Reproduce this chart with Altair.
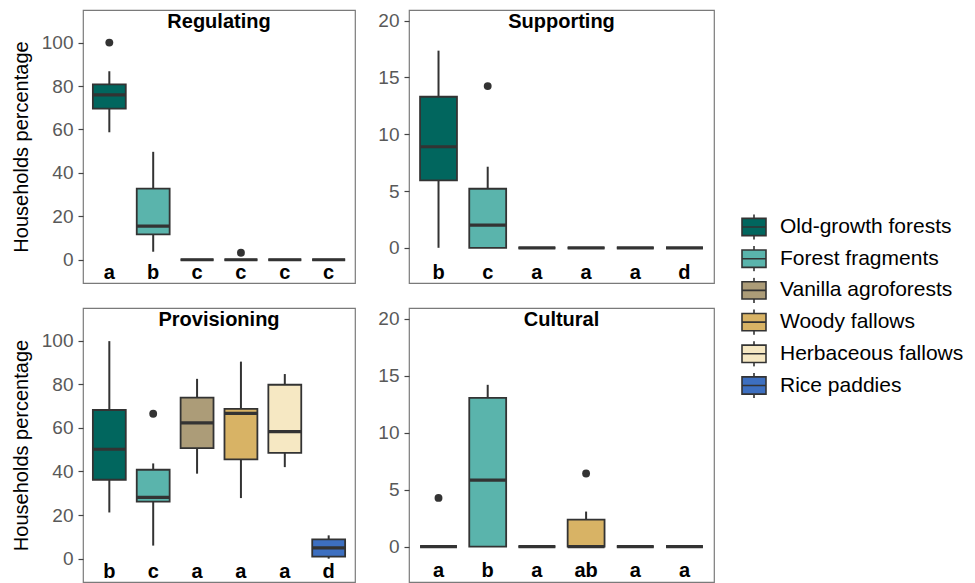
import altair as alt
import pandas as pd

cover = ["Old-growth forests", "Forest fragments", "Vanilla agroforests",
         "Woody fallows", "Herbaceous fallows", "Rice paddies"]
colors = ["#01665E", "#5AB4AC", "#AC9C78", "#D8B365", "#F6E8C3", "#3D6FC0"]

# Regulating
reg_lo = [58.7, 3.7, 0, 0, 0, 0]
reg_q1 = [69.6, 11.7, 0, 0, 0, 0]
reg_med = [75.9, 15.5, 0, 0, 0, 0]
reg_q3 = [80.8, 32.8, 0, 0, 0, 0]
reg_hi = [86.8, 49.7, 0, 0, 0, 0]
reg_letters = ["a", "b", "c", "c", "c", "c"]
reg_out_cat = ["Old-growth forests", "Woody fallows"]
reg_out_val = [100.0, 3.2]

# Supporting
sup_lo = [0, 0, 0, 0, 0, 0]
sup_q1 = [5.93, 0, 0, 0, 0, 0]
sup_med = [8.9, 2.0, 0, 0, 0, 0]
sup_q3 = [13.3, 5.2, 0, 0, 0, 0]
sup_hi = [17.36, 7.14, 0, 0, 0, 0]
sup_letters = ["b", "c", "a", "a", "a", "d"]
sup_out_cat = ["Forest fragments"]
sup_out_val = [14.24]

# Provisioning
pro_lo = [21.2, 6.0, 39.0, 27.8, 42.0, 0.0]
pro_q1 = [36.2, 26.2, 50.7, 45.6, 48.5, 0.9]
pro_med = [50.2, 28.1, 62.3, 66.7, 58.3, 5.0]
pro_q3 = [68.2, 40.8, 73.9, 68.7, 79.8, 8.9]
pro_hi = [99.8, 43.7, 82.5, 90.4, 84.7, 10.7]
pro_letters = ["b", "c", "a", "a", "a", "d"]
pro_out_cat = ["Forest fragments"]
pro_out_val = [66.5]

# Cultural
cul_lo = [0, 0, 0, 0, 0, 0]
cul_q1 = [0, 0, 0, 0, 0, 0]
cul_med = [0, 5.84, 0, 0, 0, 0]
cul_q3 = [0, 13.05, 0, 2.38, 0, 0]
cul_hi = [0, 14.2, 0, 3.08, 0, 0]
cul_letters = ["a", "b", "a", "ab", "a", "a"]
cul_out_cat = ["Old-growth forests", "Woody fallows"]
cul_out_val = [4.28, 6.42]

left_ticks = [0, 20, 40, 60, 80, 100]
right_ticks = [0, 5, 10, 15, 20]

FONT = "Liberation Sans"
DARK = "#333333"
BORDER = "#7A7A7A"

box_path = "M-1,-0.72H1V0.72H-1Z M-1,0H1 M0,-0.72V-1.05 M0,0.72V1.05"


def panel(name, lo, q1, med, q3, hi, letters, out_cat, out_val,
          domain, ticks, letter_y, width, height, ytitle):
    df = pd.DataFrame({"cover": cover, "lo": lo, "q1": q1, "med": med,
                       "q3": q3, "hi": hi, "letter": letters,
                       "ly": [letter_y] * len(cover)})
    odf = pd.DataFrame({"cover": out_cat, "val": out_val})
    xenc = alt.X("cover:N", sort=cover,
                 scale=alt.Scale(domain=cover, paddingInner=0, paddingOuter=0.1),
                 axis=None)
    yscale = alt.Scale(domain=domain, nice=False, zero=False)
    yaxis = alt.Axis(values=ticks, title=ytitle, grid=False, domain=False,
                     tickSize=5, tickColor="#444444", tickWidth=1.2,
                     labelFontSize=19, labelColor="#595959", labelFont=FONT,
                     labelPadding=5, titleFont=FONT, titleFontSize=20,
                     titleFontWeight="normal", titleColor="black",
                     titlePadding=10)
    step = width / 6.2
    base = alt.Chart(df)
    whisk = base.mark_rule(color=DARK, strokeWidth=2).encode(
        x=xenc, y=alt.Y("lo:Q", scale=yscale, axis=yaxis), y2="hi:Q")
    box = base.mark_bar(stroke=DARK, strokeWidth=1.8,
                        width=alt.RelativeBandSize(0.75)).encode(
        x=xenc, y=alt.Y("q1:Q", scale=yscale, axis=yaxis), y2="q3:Q",
        fill=alt.Fill("cover:N", sort=cover,
                      scale=alt.Scale(domain=cover, range=colors),
                      legend=alt.Legend(
                          title=None, orient="none", legendX=658, legendY=204,
                          symbolType=box_path, symbolSize=576,
                          symbolStrokeColor=DARK, symbolStrokeWidth=1.6,
                          labelFontSize=21, labelFont=FONT, labelColor="black",
                          labelOffset=13, rowPadding=5.7, clipHeight=26,
                          padding=0, labelLimit=400)))
    medm = base.mark_tick(color=DARK, thickness=3.2, size=0.75 * step,
                          opacity=1).encode(
        x=xenc, y=alt.Y("med:Q", scale=yscale, axis=yaxis))
    outs = alt.Chart(odf).mark_circle(color=DARK, size=62, opacity=1).encode(
        x=xenc, y=alt.Y("val:Q", scale=yscale, axis=yaxis))
    lets = base.mark_text(fontWeight="bold", fontSize=20, font=FONT,
                          baseline="middle", color="black").encode(
        x=xenc, y=alt.Y("ly:Q", scale=yscale, axis=yaxis), text="letter:N")
    ttl = alt.Chart(pd.DataFrame({"t": [name]})).mark_text(
        fontWeight="bold", fontSize=20, font=FONT, baseline="middle",
        color="black").encode(x=alt.value(width / 2), y=alt.value(12),
                              text="t:N")
    return alt.layer(whisk, box, medm, outs, lets, ttl).properties(
        width=width, height=height,
        view=alt.ViewBackground(stroke=BORDER, strokeWidth=1.2))


tl = panel("Regulating", reg_lo, reg_q1, reg_med, reg_q3, reg_hi, reg_letters,
           reg_out_cat, reg_out_val, [-10.7, 115], left_ticks, -6.3, 272, 273,
           "Households percentage")
tr = panel("Supporting", sup_lo, sup_q1, sup_med, sup_q3, sup_hi, sup_letters,
           sup_out_cat, sup_out_val, [-3.1, 20.94], right_ticks, -2.2, 305, 273,
           None)
bl = panel("Provisioning", pro_lo, pro_q1, pro_med, pro_q3, pro_hi, pro_letters,
           pro_out_cat, pro_out_val, [-10.7, 115], left_ticks, -6.0, 272, 274,
           "Households percentage")
br = panel("Cultural", cul_lo, cul_q1, cul_med, cul_q3, cul_hi, cul_letters,
           cul_out_cat, cul_out_val, [-3.1, 20.94], right_ticks, -2.15, 305, 274,
           None)

chart = alt.vconcat(
    alt.hconcat(tl, tr, spacing=21),
    alt.hconcat(bl, br, spacing=21),
    spacing=22,
).properties(
    padding={"left": 2, "top": 1, "right": 0, "bottom": 0}
).configure_view(
    stroke=BORDER, strokeWidth=1.2
).configure(
    font=FONT, background="white"
)

chart.save("out.html", embed_options={"renderer": "svg", "actions": False})
